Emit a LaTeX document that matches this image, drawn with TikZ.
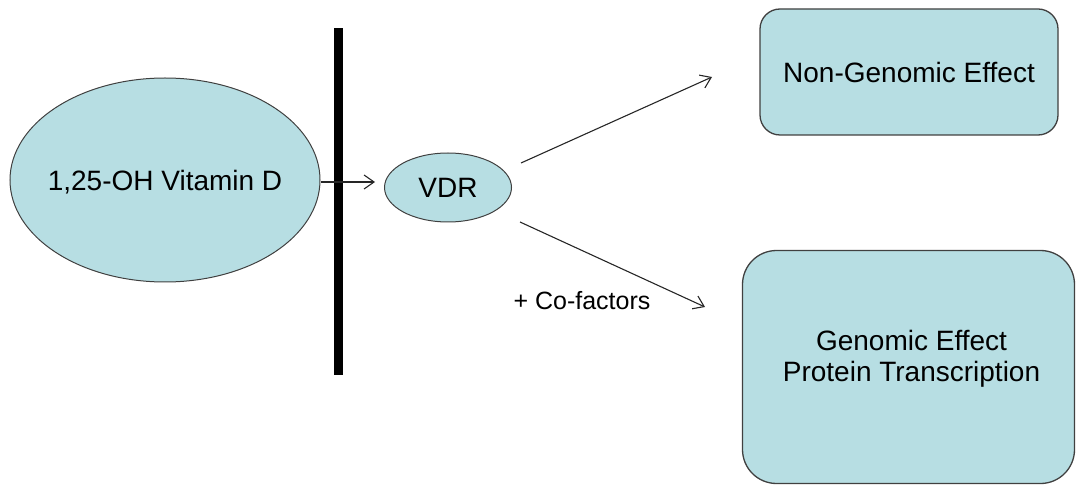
\documentclass[tikz,border=0pt]{standalone}
\usepackage{fontspec}
\setmainfont{Liberation Sans}
\usetikzlibrary{arrows.meta}
\usetikzlibrary{positioning}
\usetikzlibrary{shapes.geometric}
\definecolor{cellblue}{RGB}{183,222,227}
\definecolor{edgegray}{RGB}{64,64,64}
\tikzset{
  blob/.style={ellipse, draw=edgegray, line width=1pt, fill=cellblue, inner sep=0pt},
  effectbox/.style={rounded corners=#1, draw=edgegray, line width=1.3pt, fill=cellblue, align=center, inner sep=0pt},
  bigtext/.style={font=\fontsize{28}{32}\selectfont, align=center},
  arr/.style={-{Straight Barb[length=10pt,width=14pt]}, line width=1.1pt, draw=black!85}
}

\begin{document}
\begin{tikzpicture}[x=1pt,y=-1pt]
			\useasboundingbox (0,0) rectangle (1076,486);
			% draw ellipses
			\node[blob, minimum width=310pt, minimum height=204pt, label={[bigtext, yshift=-2pt]center:1,25-OH Vitamin D}] (vitd) at (165,180) {};
			\node[blob, minimum width=127pt, minimum height=69pt, bigtext] (vdr) at (448,187.5) {VDR};
			% draw membrane
			\node[fill=black, inner sep=0pt, minimum width=9pt, minimum height=347pt] (membrane) at (338,201.5) {};
			% draw boxes
			\node[effectbox=20pt, minimum width=298pt, minimum height=126pt, bigtext] (nongen) at (909,72) {Non-Genomic Effect};
			\node[effectbox=34pt, minimum width=332pt, minimum height=233pt, label={[bigtext, yshift=8pt, xshift=3pt]center:Genomic Effect\\[-1pt]Protein Transcription}] (gen) at (908.5,367) {};
			% add arrows
			\coordinate (vdrin) at (375,182);
			\coordinate (upstart) at (521,163);
			\coordinate (upend) at (712,77);
			\coordinate (downstart) at (520,222);
			\coordinate (downend) at (705,307);
			\draw[arr] (vitd.east |- vdrin) -- (vdrin);
			\draw[arr] (upstart) -- (upend);
			\draw[arr] (downstart) -- (downend);
			% add label
			\node[font=\fontsize{25}{28}\selectfont, inner sep=0pt] (cofactors) at (582,301) {+ Co-factors};
		\end{tikzpicture}
\end{document}
